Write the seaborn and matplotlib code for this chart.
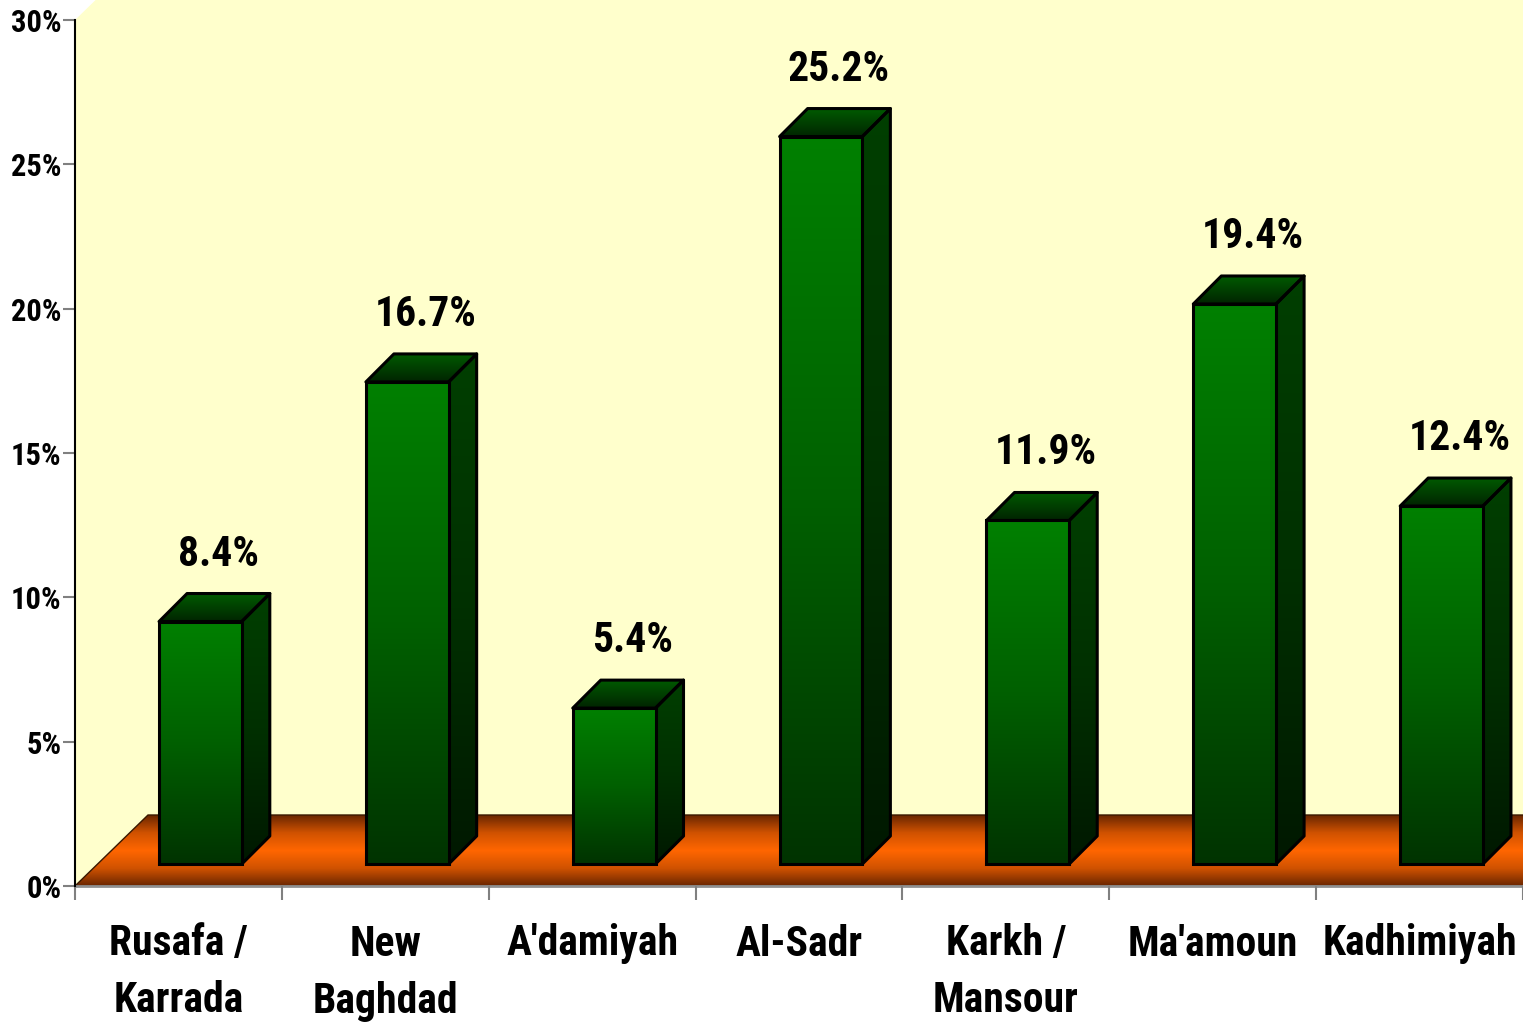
import numpy as np
import pandas as pd
import matplotlib
matplotlib.use("Agg")
import matplotlib.pyplot as plt
import seaborn as sns
from matplotlib.transforms import ScaledTranslation
from matplotlib.patches import Polygon
from matplotlib.colors import LinearSegmentedColormap
from matplotlib import font_manager

# ---------------- data ----------------
categories = ["Rusafa /\nKarrada", "New\nBaghdad", "A'damiyah", "Al-Sadr",
              "Karkh /\nMansour", "Ma'amoun", "Kadhimiyah"]
values = [8.4, 16.7, 5.4, 25.2, 11.9, 19.4, 12.4]
value_labels = ["8.4%", "16.7%", "5.4%", "25.2%", "11.9%", "19.4%", "12.4%"]
yticks = [0, 5, 10, 15, 20, 25, 30]
ytick_labels = ["0%", "5%", "10%", "15%", "20%", "25%", "30%"]

# ---------------- style ----------------
sns.set_theme(style="white")
installed = {f.name for f in font_manager.fontManager.ttflist}
prefs = ["Liberation Sans Narrow", "Arial Narrow", "Roboto Condensed", "Archivo Narrow",
         "PT Sans Narrow", "IBM Plex Sans Condensed", "Open Sans Condensed", "DejaVu Sans"]
fams = [f for f in prefs if f in installed] or ["DejaVu Sans"]
if "DejaVu Sans" not in fams:
    fams.append("DejaVu Sans")
plt.rcParams["font.family"] = fams
plt.rcParams["font.weight"] = "bold"

DPI = 100
W, H = 1523, 1024
fig = plt.figure(figsize=(W / DPI, H / DPI), dpi=DPI)
fig.patch.set_facecolor("white")

bg = fig.add_axes([0, 0, 1, 1], zorder=0)
bg.set_xlim(0, W)
bg.set_ylim(0, H)
bg.axis("off")

ax = fig.add_axes([75 / W, 138 / H, 1448 / W, 866 / H], zorder=1)
ax.patch.set_visible(False)

df = pd.DataFrame({"district": categories, "share": values})
sns.barplot(data=df, x="district", y="share", ax=ax, width=0.4,
            color="#008000", saturation=1, edgecolor="black", linewidth=2.2)
ax.set_xlim(-0.5, 6.5)
ax.set_ylim(0, 30)
ax.set_xlabel("")
ax.set_ylabel("")

# depth geometry (pixels)
DX, DY = 73, 71          # wall depth
FX, FY = 22, 22          # bar front offset from front edge
BX, BY = 28, 28          # bar depth


def cmap_of(cols):
    return LinearSegmentedColormap.from_list("c", cols)


grad = np.linspace(1, 0, 256).reshape(-1, 1)

# ---------------- wall and floor ----------------
x0, y0 = ax.transData.transform((-0.5, 0))
_, ytop = ax.transData.transform((-0.5, 30))
xr_ax, _ = ax.transData.transform((6.5, 0))

wall = Polygon([(x0, y0), (x0, ytop), (x0 + (H - ytop) * DX / DY, H), (W + 5, H), (W + 5, y0)],
               closed=True, facecolor="#FFFFCC", edgecolor="none", zorder=1)
bg.add_patch(wall)

floor = Polygon([(x0, y0), (x0 + DX, y0 + DY), (xr_ax + DX, y0 + DY), (xr_ax, y0)],
                closed=True, facecolor="none", edgecolor="#3a1800", lw=1.0, zorder=3)
bg.add_patch(floor)
imf = bg.imshow(grad, cmap=cmap_of(["#6a2600", "#d05200", "#FF6600", "#d05200", "#6a2600"]),
                extent=(x0, xr_ax + DX, y0, y0 + DY), aspect="auto", zorder=2,
                vmin=0, vmax=1, interpolation="bilinear")
imf.set_clip_path(floor)

# ---------------- bars ----------------
off_front = ScaledTranslation(FX / DPI, FY / DPI, fig.dpi_scale_trans)
front_cmap = cmap_of(["#003300", "#006000", "#008000"])
side_cmap = cmap_of(["#001800", "#003000", "#003f00"])
top_cmap = cmap_of(["#002400", "#005a00"])


def face(verts_px, cmap, z):
    v = np.array(verts_px) / DPI
    poly = Polygon(v, closed=True, transform=fig.dpi_scale_trans, facecolor="none",
                   edgecolor="black", lw=2.2, joinstyle="round", zorder=z + 0.5)
    ax.add_patch(poly)
    (xa, ya), (xb, yb) = v.min(0), v.max(0)
    im = ax.imshow(grad, cmap=cmap, extent=(xa, xb, ya, yb), transform=fig.dpi_scale_trans,
                   aspect="auto", zorder=z, vmin=0, vmax=1, interpolation="bilinear")
    im.set_clip_path(poly)


for p in list(ax.patches):
    x, w, h = p.get_x(), p.get_width(), p.get_height()
    p.set_transform(ax.transData + off_front)
    p.set_facecolor("none")
    p.set_zorder(4.5)
    im = ax.imshow(grad, cmap=front_cmap, extent=(x, x + w, 0, h),
                   transform=ax.transData + off_front, aspect="auto", zorder=4,
                   vmin=0, vmax=1, interpolation="bilinear")
    im.set_clip_path(p)
    xl, yt = ax.transData.transform((x, h))
    xr, yb = ax.transData.transform((x + w, 0))
    xl, xr, yt, yb = xl + FX, xr + FX, yt + FY, yb + FY
    face([(xr, yb), (xr + BX, yb + BY), (xr + BX, yt + BY), (xr, yt)], side_cmap, 3)
    face([(xl, yt), (xr, yt), (xr + BX, yt + BY), (xl + BX, yt + BY)], top_cmap, 3)

ax.set_xlim(-0.5, 6.5)
ax.set_ylim(0, 30)

# ---------------- labels ----------------
for i, (v, lab) in enumerate(zip(values, value_labels)):
    ax.annotate(lab, xy=(i, v), xytext=(40 * 0.72, 78 * 0.72), textcoords="offset points",
                ha="center", va="baseline", fontsize=30, fontweight="bold", color="black",
                zorder=6)

# ---------------- axes ----------------
for s in ["top", "right"]:
    ax.spines[s].set_visible(False)
ax.spines["left"].set_color("black")
ax.spines["left"].set_linewidth(1.5)
ax.spines["bottom"].set_color("#909090")
ax.spines["bottom"].set_linewidth(2)
ax.spines["bottom"].set_zorder(0.5)

ax.set_yticks(yticks, ytick_labels)
ax.tick_params(axis="y", left=True, length=8.6, width=1.5, color="#808080", pad=1,
               labelsize=22, labelcolor="black")
ax.set_xticks(range(len(categories)), categories)
ax.set_xticks(np.arange(-0.5, len(categories), 1), minor=True)
ax.tick_params(axis="x", which="major", bottom=True, length=0, pad=27, labelsize=30,
               labelcolor="black")
ax.tick_params(axis="x", which="minor", bottom=True, length=10, width=1.5, color="#808080")
for t in ax.get_xticklabels():
    t.set_linespacing(1.5)
    t.set_fontweight("bold")
for t in ax.get_yticklabels():
    t.set_fontweight("bold")

fig.savefig("out.png", dpi=DPI)
